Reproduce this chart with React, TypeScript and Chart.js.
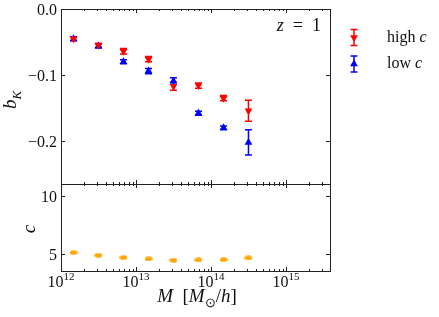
import React, { useEffect, useRef } from 'react';
import { Chart, registerables } from 'chart.js';
Chart.register(...registerables);

// ---- data ----
const massBins = [1.47e12, 3.16e12, 6.81e12, 1.47e13, 3.16e13, 6.81e13, 1.47e14, 3.16e14];
const highCbK = [-0.045, -0.055, -0.064, -0.076, -0.117, -0.116, -0.135, -0.154];
const highCErr = [0.003, 0.003, 0.004, 0.004, 0.006, 0.004, 0.004, 0.016];
const lowCbK = [-0.045, -0.056, -0.080, -0.094, -0.109, -0.158, -0.180, -0.202];
const lowCErr = [0.003, 0.003, 0.003, 0.004, 0.005, 0.003, 0.003, 0.019];
const concentration = [5.09, 4.86, 4.66, 4.54, 4.43, 4.46, 4.49, 4.63];
const bKTicks = [0, -0.1, -0.2];
const bKTickLabels = ['0.0', '\u22120.1', '\u22120.2'];
const cTicks = [5, 10];
const cTickLabels = ['5', '10'];
const massDecades = [12, 13, 14, 15];

// ---- layout ----
const W = 439, H = 317;
const LEFT = 61, RIGHT = 330, TOP = 9, MID = 184, BOTTOM = 271;
const XMIN = 1e12, XMAX = Math.pow(10, 15.587);
const FONT = '"Liberation Serif", "Times New Roman", serif';
const FS = 16;
const AX = '#222';

type Part = { t: string; it?: boolean; sub?: boolean; sup?: boolean };

function partFont(p: Part, size: number) {
  const s = p.sub || p.sup ? Math.round(size * 0.7) : size;
  return (p.it ? 'italic ' : '') + s + 'px ' + FONT;
}
function drawRich(ctx: CanvasRenderingContext2D, parts: Part[], x: number, y: number, size: number, align: 'left' | 'center' | 'right') {
  ctx.save();
  ctx.textBaseline = 'alphabetic';
  ctx.textAlign = 'left';
  let total = 0;
  const widths = parts.map(p => { ctx.font = partFont(p, size); const w = ctx.measureText(p.t).width; total += w; return w; });
  let cx = align === 'left' ? x : align === 'center' ? x - total / 2 : x - total;
  parts.forEach((p, i) => {
    ctx.font = partFont(p, size);
    const dy = p.sub ? size * 0.25 : p.sup ? -size * 0.42 : 0;
    ctx.fillText(p.t, cx, y + dy);
    cx += widths[i];
  });
  ctx.restore();
}

function drawFrame(ctx: CanvasRenderingContext2D, a: any) {
  ctx.save();
  ctx.strokeStyle = AX;
  ctx.lineWidth = 1;
  ctx.strokeRect(a.left + 0.5, a.top + 0.5, a.right - a.left, a.bottom - a.top);
  ctx.restore();
}

function drawXTicks(ctx: CanvasRenderingContext2D, xs: any, a: any) {
  ctx.save();
  ctx.strokeStyle = AX;
  ctx.lineWidth = 1;
  for (const d of massDecades) {
    for (let m = 1; m <= 9; m++) {
      const v = m * Math.pow(10, d);
      if (v > XMAX) break;
      const px = Math.round(xs.getPixelForValue(v)) + 0.5;
      const len = m === 1 ? 4 : 2;
      ctx.beginPath();
      ctx.moveTo(px, a.top); ctx.lineTo(px, a.top + len);
      ctx.moveTo(px, a.bottom); ctx.lineTo(px, a.bottom - len);
      ctx.stroke();
    }
  }
  ctx.restore();
}

function drawYTicks(ctx: CanvasRenderingContext2D, ys: any, a: any, ticks: number[], labels: string[]) {
  ctx.save();
  ctx.strokeStyle = AX;
  ctx.lineWidth = 1;
  ctx.fillStyle = '#111';
  ctx.font = FS + 'px ' + FONT;
  ctx.textAlign = 'right';
  ctx.textBaseline = 'middle';
  ticks.forEach((t, i) => {
    const py = Math.round(ys.getPixelForValue(t)) + 0.5;
    ctx.beginPath();
    ctx.moveTo(a.left, py); ctx.lineTo(a.left + 4, py);
    ctx.moveTo(a.right, py); ctx.lineTo(a.right - 4, py);
    ctx.stroke();
    ctx.fillText(labels[i], a.left - 4, py + 1);
  });
  ctx.restore();
}

function drawTri(ctx: CanvasRenderingContext2D, x: number, y: number, r: number, down: boolean) {
  const s = down ? -1 : 1;
  ctx.beginPath();
  ctx.moveTo(x, y - s * r);
  ctx.lineTo(x + r * 0.866, y + s * r * 0.5);
  ctx.lineTo(x - r * 0.866, y + s * r * 0.5);
  ctx.closePath();
  ctx.fill();
}

function errGlyph(ctx: CanvasRenderingContext2D, x: number, y1: number, y2: number, color: string) {
  ctx.strokeStyle = color;
  ctx.lineWidth = 1.5;
  ctx.beginPath();
  ctx.moveTo(x, y1); ctx.lineTo(x, y2);
  ctx.moveTo(x - 3.5, y1); ctx.lineTo(x + 3.5, y1);
  ctx.moveTo(x - 3.5, y2); ctx.lineTo(x + 3.5, y2);
  ctx.stroke();
}

const topPlugin = {
  id: 'topDecor',
  beforeDatasetsDraw(chart: any) {
    const ctx = chart.ctx; const xs = chart.scales.x; const ys = chart.scales.y;
    ctx.save();
    const draw = (vals: number[], errs: number[], color: string) => {
      vals.forEach((v, i) => {
        const px = xs.getPixelForValue(massBins[i]);
        errGlyph(ctx, px, ys.getPixelForValue(v + errs[i]), ys.getPixelForValue(v - errs[i]), color);
      });
    };
    draw(highCbK, highCErr, '#ff0000');
    draw(lowCbK, lowCErr, '#0000ff');
    ctx.restore();
  },
  afterDraw(chart: any) {
    const ctx = chart.ctx; const a = chart.chartArea;
    drawFrame(ctx, a);
    drawXTicks(ctx, chart.scales.x, a);
    drawYTicks(ctx, chart.scales.y, a, bKTicks, bKTickLabels);
    ctx.save();
    ctx.fillStyle = '#111';
    // z = 1
    drawRich(ctx, [{ t: 'z', it: true }, { t: '\u2002=\u20021' }], 321, 31, 18, 'right');
    // y label
    ctx.translate(16, 100);
    ctx.rotate(-Math.PI / 2);
    drawRich(ctx, [{ t: 'b', it: true }, { t: 'K', it: true, sub: true }], 0, 0, 19, 'center');
    ctx.restore();
    // legend
    ctx.save();
    const items = [
      { y: 37.5, color: '#ff0000', down: true, label: 'high ' },
      { y: 64, color: '#0000ff', down: false, label: 'low ' },
    ];
    items.forEach(it => {
      errGlyph(ctx, 354, it.y - 8, it.y + 8, it.color);
      ctx.fillStyle = it.color;
      drawTri(ctx, 354, it.y, 4.5, it.down);
      ctx.fillStyle = '#111';
      drawRich(ctx, [{ t: it.label }, { t: 'c', it: true }], 387, it.y + 4, FS, 'left');
    });
    ctx.restore();
  },
};

const botPlugin = {
  id: 'botDecor',
  afterDraw(chart: any) {
    const ctx = chart.ctx; const a = chart.chartArea; const xs = chart.scales.x;
    drawFrame(ctx, a);
    drawXTicks(ctx, xs, a);
    drawYTicks(ctx, chart.scales.y, a, cTicks, cTickLabels);
    ctx.save();
    ctx.fillStyle = '#111';
    for (const d of massDecades) {
      const px = xs.getPixelForValue(Math.pow(10, d));
      drawRich(ctx, [{ t: '10' }, { t: String(d), sup: true }], px, 287, FS, 'center');
    }
    drawRich(ctx, [{ t: 'M', it: true }, { t: '\u2002[' }, { t: 'M', it: true }, { t: '\u2299', sub: true }, { t: '/' }, { t: 'h', it: true }, { t: ']' }], 197, 302, 19, 'center');
    ctx.translate(35, 229);
    ctx.rotate(-Math.PI / 2);
    drawRich(ctx, [{ t: 'c', it: true }], 0, 0, 19, 'center');
    ctx.restore();
  },
};

function ellipseMarker() {
  const c = document.createElement('canvas');
  c.width = 8; c.height = 5;
  const g = c.getContext('2d')!;
  g.fillStyle = '#ffa500';
  g.beginPath();
  g.ellipse(4, 2.5, 3.8, 2.3, 0, 0, Math.PI * 2);
  g.fill();
  return c;
}

export default function App() {
  const topRef = useRef<HTMLCanvasElement>(null);
  const botRef = useRef<HTMLCanvasElement>(null);
  useEffect(() => {
    document.body.style.margin = '0';
    const common = (padding: any) => ({
      responsive: false,
      animation: false as const,
      events: [],
      layout: { padding },
      plugins: { legend: { display: false }, tooltip: { enabled: false } },
    });
    const top = new Chart(topRef.current!, {
      type: 'scatter',
      data: {
        datasets: [
          {
            data: massBins.map((m, i) => ({ x: m, y: highCbK[i] })),
            pointStyle: 'triangle', pointRotation: 180, pointRadius: 4.5,
            pointBackgroundColor: '#ff0000', pointBorderColor: '#ff0000', pointBorderWidth: 0,
          },
          {
            data: massBins.map((m, i) => ({ x: m, y: lowCbK[i] })),
            pointStyle: 'triangle', pointRadius: 4.5,
            pointBackgroundColor: '#0000ff', pointBorderColor: '#0000ff', pointBorderWidth: 0,
          },
        ],
      },
      options: {
        ...common({ left: LEFT, top: TOP, right: W - RIGHT, bottom: H - MID }),
        scales: {
          x: { type: 'logarithmic', min: XMIN, max: XMAX, display: false },
          y: { type: 'linear', min: -0.265, max: 0, display: false },
        },
      } as any,
      plugins: [topPlugin],
    });
    const bot = new Chart(botRef.current!, {
      type: 'scatter',
      data: {
        datasets: [
          {
            data: massBins.map((m, i) => ({ x: m, y: concentration[i] })),
            pointStyle: ellipseMarker() as any, pointRadius: 4,
            pointBackgroundColor: '#ffa500', pointBorderColor: '#ffa500', pointBorderWidth: 0,
          },
        ],
      },
      options: {
        ...common({ left: LEFT, top: MID, right: W - RIGHT, bottom: H - BOTTOM }),
        scales: {
          x: { type: 'logarithmic', min: XMIN, max: XMAX, display: false },
          y: { type: 'linear', min: 3.5, max: 11, display: false },
        },
      } as any,
      plugins: [botPlugin],
    });
    return () => { top.destroy(); bot.destroy(); };
  }, []);
  return (
    <div style={{ position: 'relative', width: W, height: H, background: '#fff' }}>
      <canvas ref={topRef} width={W} height={H} style={{ position: 'absolute', left: 0, top: 0 }} />
      <canvas ref={botRef} width={W} height={H} style={{ position: 'absolute', left: 0, top: 0 }} />
    </div>
  );
}
